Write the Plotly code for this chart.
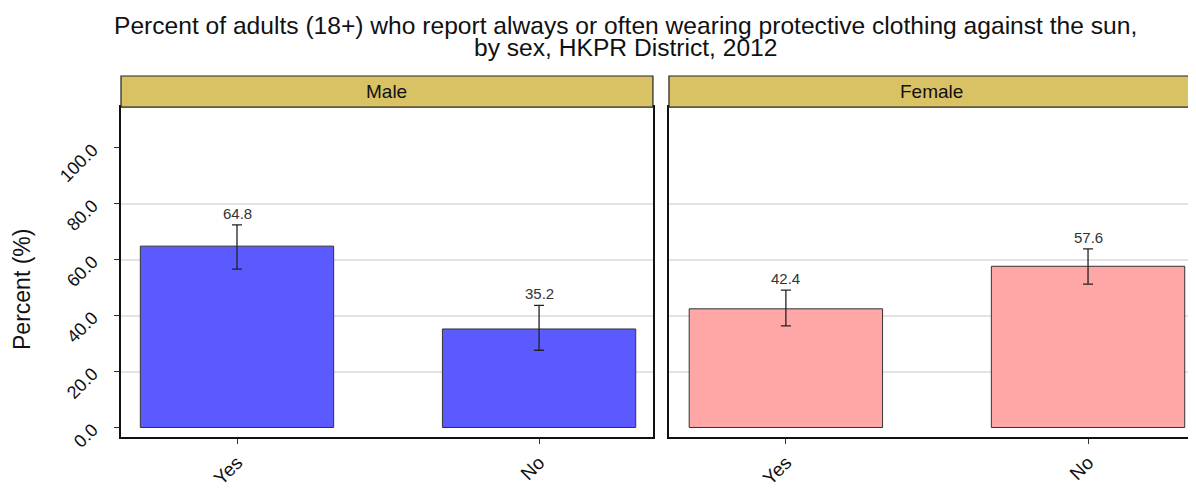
import plotly.graph_objects as go
from plotly.subplots import make_subplots

# Data
sexes = ["Male", "Female"]
responses = ["Yes", "No"]
percent = {"Male": [64.8, 35.2], "Female": [42.4, 57.6]}
ci_low = {"Male": [56.6, 27.6], "Female": [36.3, 51.2]}
ci_high = {"Male": [72.4, 43.6], "Female": [49.1, 63.8]}
bar_colors = {"Male": "#5A5AFF", "Female": "#FFA6A6"}
y_ticks = [0, 20, 40, 60, 80, 100]
grid_vals = [20, 40, 60, 80]
title_lines = ["Percent of adults (18+) who report always or often wearing protective "
               "clothing against the sun,", "by sex, HKPR District, 2012"]

FONT = "Liberation Sans, Arial, sans-serif"

fig = make_subplots(rows=1, cols=2, shared_yaxes=True, horizontal_spacing=0.015)

for i, sex in enumerate(sexes, start=1):
    vals = percent[sex]
    plus = [round(h - v, 2) for h, v in zip(ci_high[sex], vals)]
    minus = [round(v - l, 2) for l, v in zip(ci_low[sex], vals)]
    fig.add_trace(go.Bar(
        x=responses, y=vals, width=0.64,
        marker=dict(color=bar_colors[sex], line=dict(color="#333333", width=1)),
        error_y=dict(type="data", symmetric=False, array=plus, arrayminus=minus,
                     color="#222222", thickness=1.3, width=5),
        showlegend=False, hoverinfo="x+y"), row=1, col=i)
    # value labels above the upper CI
    for r, v, h in zip(responses, vals, ci_high[sex]):
        fig.add_annotation(x=r, y=h, text=f"{v:.1f}", showarrow=False,
                           yanchor="bottom", yshift=1, row=1, col=i,
                           font=dict(size=15, color="#333333", family=FONT))

# facet strips
for i, sex in enumerate(sexes, start=1):
    xref = "x domain" if i == 1 else f"x{i} domain"
    fig.add_shape(type="rect", xref=xref, yref="paper", x0=0, x1=1, y0=0.914, y1=1.0,
                  fillcolor="#D9C264", line=dict(color="#222222", width=1.2))
    fig.add_annotation(xref=xref, yref="paper", x=0.5, y=0.958, text=sex,
                       showarrow=False, yanchor="middle",
                       font=dict(size=19, color="#111111", family=FONT))

# title as two lines (tight line spacing like the original)
for txt, ypos in zip(title_lines, [1.141, 1.078]):
    fig.add_annotation(xref="paper", yref="paper", x=0.4693, y=ypos, text=txt,
                       showarrow=False, xanchor="center", yanchor="middle",
                       font=dict(size=24.6, color="#111111", family=FONT))

# y axis title
fig.add_annotation(xref="paper", yref="paper", x=-0.0922, y=0.41, text="Percent (%)",
                   showarrow=False, textangle=-90, xanchor="center", yanchor="middle",
                   font=dict(size=23, color="#111111", family=FONT))

fig.update_xaxes(showline=True, linecolor="#111111", linewidth=2,
                 mirror=True, ticks="outside", ticklen=5, tickcolor="#333333",
                 tickangle=-45, tickfont=dict(size=19, color="#111111", family=FONT),
                 showgrid=False, zeroline=False, automargin=False)
fig.update_xaxes(domain=[0, 0.4953], range=[-0.384, 1.377], row=1, col=1)
fig.update_xaxes(domain=[0.5102, 1.0], range=[-0.387, 1.354], row=1, col=2)

fig.update_yaxes(range=[-3.4, 114.5], domain=[0, 0.914], tickvals=y_ticks,
                 ticktext=[f"{t:.1f}" for t in y_ticks], showline=True,
                 linecolor="#111111", linewidth=1.5, mirror=True, showgrid=False,
                 zeroline=False, automargin=False,
                 minor=dict(tickvals=grid_vals, showgrid=True, gridcolor="#E3E3E3",
                            gridwidth=1.5, ticklen=0))
fig.update_yaxes(ticks="outside", ticklen=5, tickcolor="#333333", tickangle=-45,
                 ticklabelstandoff=18,
                 tickfont=dict(size=18, color="#111111", family=FONT),
                 row=1, col=1)

# page body adds an 8px offset, so the figure is sized to fit the window
fig.update_layout(
    width=1188, height=482,
    margin=dict(l=113, r=1, t=68, b=53, autoexpand=False),
    paper_bgcolor="white", plot_bgcolor="white",
)

fig.write_html("out.html")
